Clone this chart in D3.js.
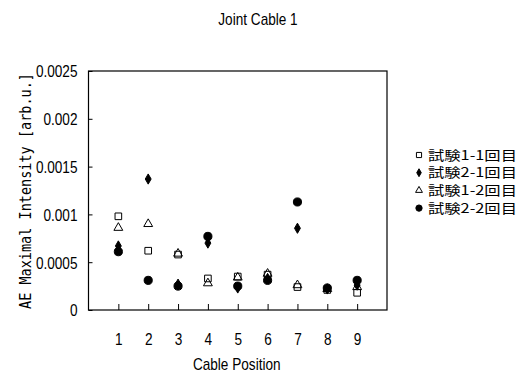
<!DOCTYPE html>
<html>
<head>
<meta charset="utf-8">
<script src="https://cdn.jsdelivr.net/npm/d3@7"></script>
<style>
  body { margin: 0; background: #fff; }
  text { fill: #000; }
</style>
</head>
<body>
<div id="chart"></div>
<script>
// Data
var positions = [1, 2, 3, 4, 5, 6, 7, 8, 9];
var yTicks = [0, 0.0005, 0.001, 0.0015, 0.002, 0.0025];
var seriesNames = ["試験1-1回目", "試験2-1回目", "試験1-2回目", "試験2-2回目"];
var test11 = [0.00098, 0.00062, 0.00058, 0.00033, 0.00035, 0.00037, 0.00024, 0.00021, 0.00018];
var test21 = [0.00067, 0.00137, 0.00027, 0.00070, 0.00023, 0.00033, 0.000855, 0.00022, 0.00026];
var test12 = [0.00086, 0.00090, 0.00059, 0.00028, 0.00034, 0.00038, 0.00026, 0.00022, 0.00024];
var test22 = [0.00061, 0.00031, 0.00025, 0.00077, 0.00025, 0.00031, 0.00113, 0.00023, 0.00031];

var width = 523, height = 380;
var margin = {top: 71, right: 136, bottom: 70, left: 88.5};
var sans = "'Liberation Sans', Arial, sans-serif";

var svg = d3.select("#chart").append("svg")
  .attr("width", width)
  .attr("height", height);

// squeeze text horizontally so it looks like the condensed font of the original
var condense = function (sel, k) {
  sel.each(function () {
    var w = this.getComputedTextLength();
    d3.select(this).attr("textLength", w * k).attr("lengthAdjust", "spacingAndGlyphs");
  });
};

var x = d3.scaleLinear().domain([0, 10]).range([margin.left, width - margin.right]);
var y = d3.scaleLinear().domain([0, 0.0025]).range([height - margin.bottom, margin.top]);

// plot box
svg.append("rect")
  .attr("x", x(0)).attr("y", y(0.0025))
  .attr("width", x(10) - x(0)).attr("height", y(0) - y(0.0025))
  .attr("fill", "none").attr("stroke", "#000").attr("stroke-width", 1.2);

// axes (ticks inward)
var yAxis = d3.axisLeft(y).tickValues(yTicks).tickSizeInner(-4).tickSizeOuter(0)
  .tickFormat(function (d) { return d === 0 ? "0" : String(+d.toFixed(4)); });
var gy = svg.append("g").attr("transform", "translate(" + x(0) + ",0)").call(yAxis);
gy.select(".domain").remove();
gy.selectAll("text").attr("x", -11).attr("dy", "0.35em")
  .style("font-family", sans).style("font-size", "17px")
  .call(condense, 0.8);

var xAxis = d3.axisBottom(x).tickValues(positions).tickSizeInner(-6).tickSizeOuter(0)
  .tickFormat(d3.format("d"));
var gx = svg.append("g").attr("transform", "translate(0," + y(0) + ")").call(xAxis);
gx.select(".domain").remove();
gx.selectAll("text").attr("y", 23).attr("dy", "0.71em")
  .style("font-family", sans).style("font-size", "17px")
  .call(condense, 0.8);

// symbols
var sym = [
  {type: d3.symbolSquare, size: 44, fill: "none"},
  {type: d3.symbolDiamond, size: 30, fill: "#000"},
  {type: d3.symbolTriangle, size: 34, fill: "none"},
  {type: d3.symbolCircle, size: 52, fill: "#000"}
];
var allSeries = [test11, test21, test12, test22];

allSeries.forEach(function (vals, si) {
  svg.append("g").selectAll("path")
    .data(vals)
    .join("path")
    .attr("transform", function (d, i) { return "translate(" + x(positions[i]) + "," + y(d) + ")"; })
    .attr("d", d3.symbol().type(sym[si].type).size(sym[si].size))
    .attr("fill", sym[si].fill)
    .attr("stroke", "#000")
    .attr("stroke-width", 1);
});

// title
svg.append("text")
  .attr("x", 258).attr("y", 25)
  .attr("text-anchor", "middle")
  .style("font-family", sans).style("font-size", "17px")
  .text("Joint Cable 1")
  .call(condense, 0.8);

// axis titles
svg.append("text")
  .attr("x", x(5) - 1).attr("y", 370)
  .attr("text-anchor", "middle")
  .style("font-family", sans).style("font-size", "17px")
  .text("Cable Position")
  .call(condense, 0.8);

svg.append("text")
  .attr("transform", "translate(31,191) rotate(-90)")
  .attr("text-anchor", "middle")
  .attr("textLength", 236).attr("lengthAdjust", "spacingAndGlyphs")
  .style("font-family", "'DejaVu Sans Mono', monospace").style("font-size", "16px")
  .text("AE Maximal Intensity [arb.u.]");

// legend
var legend = svg.append("g").selectAll("g")
  .data(seriesNames)
  .join("g")
  .attr("transform", function (d, i) { return "translate(419," + (155 + i * 17.7) + ")"; });

legend.append("path")
  .attr("d", function (d, i) { return d3.symbol().type(sym[i].type).size(sym[i].size * 0.6)(); })
  .attr("fill", function (d, i) { return sym[i].fill; })
  .attr("stroke", "#000").attr("stroke-width", 1);

legend.append("text")
  .attr("x", 9).attr("dy", "0.36em")
  .attr("textLength", 89).attr("lengthAdjust", "spacingAndGlyphs")
  .style("font-family", "'Noto Sans CJK JP', sans-serif").style("font-size", "13px")
  .text(function (d) { return d; });
</script>
</body>
</html>
